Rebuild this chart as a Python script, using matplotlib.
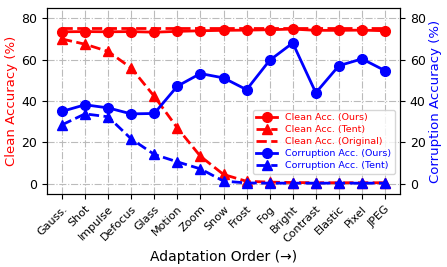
import matplotlib
matplotlib.use('Agg')
import matplotlib.pyplot as plt

corruptions = ['Gauss.', 'Shot', 'Impulse', 'Defocus', 'Glass', 'Motion', 'Zoom',
               'Snow', 'Frost', 'Fog', 'Bright', 'Contrast', 'Elastic', 'Pixel', 'JPEG']
clean_ours = [73.5, 73.6, 73.5, 73.6, 73.3, 73.7, 74.0, 74.2, 74.3, 74.5, 74.8, 74.2, 74.2, 74.3, 74.0]
clean_tent = [70.0, 67.5, 64.0, 56.0, 42.3, 27.0, 13.3, 4.5, 1.2, 0.8, 0.6, 0.5, 0.5, 0.5, 0.5]
clean_orig = [75.2] * 15
corr_ours = [35.0, 38.2, 36.7, 33.8, 34.0, 47.2, 53.3, 51.2, 45.5, 59.7, 68.1, 44.0, 57.1, 60.4, 54.7]
corr_tent = [28.5, 33.8, 32.4, 21.7, 14.2, 10.6, 7.2, 1.3, 0.4, 0.3, 0.3, 0.3, 0.3, 0.3, 0.3]

x = list(range(len(corruptions)))

fig, ax = plt.subplots(figsize=(4.47, 2.67), dpi=100)
fig.subplots_adjust(left=0.105, right=0.895, bottom=0.273, top=0.97)
ax2 = ax.twinx()

l1, = ax.plot(x, clean_ours, '-o', color='red', lw=2, ms=7, label='Clean Acc. (Ours)')
l2, = ax.plot(x, clean_tent, '--^', color='red', lw=2, ms=7, label='Clean Acc. (Tent)')
l3, = ax.plot(x, clean_orig, '--', color='red', lw=2, label='Clean Acc. (Original)')
l4, = ax2.plot(x, corr_ours, '-o', color='blue', lw=2, ms=7, label='Corruption Acc. (Ours)')
l5, = ax2.plot(x, corr_tent, '--^', color='blue', lw=2, ms=7, label='Corruption Acc. (Tent)')

for a in (ax, ax2):
    a.set_ylim(-5, 85)
    a.set_yticks([0, 20, 40, 60, 80])
    a.tick_params(axis='y', labelsize=9)
ax.set_xlim(-0.65, len(x) - 0.35)
ax.set_xticks(x)
ax.set_xticklabels(corruptions, rotation=45, ha='right', rotation_mode='anchor', fontsize=8)
ax.grid(True, linestyle='-.', color='#bbbbbb', lw=0.8)

ax.set_ylabel('Clean Accuracy (%)', color='red', fontsize=9.5, labelpad=2)
ax2.set_ylabel('Corruption Accuracy (%)', color='blue', fontsize=9.5, labelpad=2)
ax.set_xlabel('Adaptation Order (→)', fontsize=10, labelpad=4)

leg = ax2.legend(handles=[l1, l2, l3, l4, l5], loc='lower right',
                 bbox_to_anchor=(0.99, 0.1), fontsize=6.8, borderaxespad=0.2,
                 handlelength=2.2, labelspacing=0.3)
for t, c in zip(leg.get_texts(), ['red', 'red', 'red', 'blue', 'blue']):
    t.set_color(c)

plt.savefig('out.png', dpi=100)
